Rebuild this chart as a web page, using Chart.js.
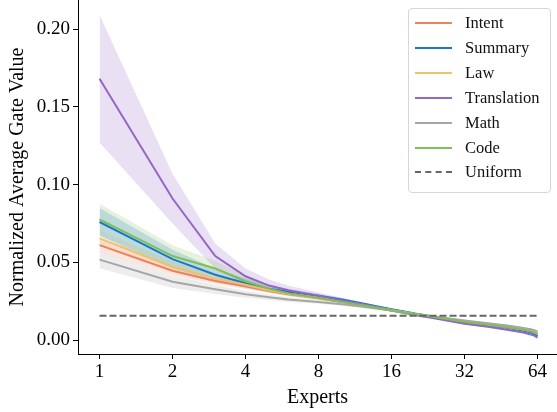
<!DOCTYPE html>
<html lang="en">
<head>
  <meta charset="UTF-8" />
  <title>Normalized Average Gate Value</title>
  <script src="https://cdn.jsdelivr.net/npm/chart.js"></script>
  <style>
    body { margin: 0; background: #fff; }
    #wrap { position: relative; width: 557px; height: 412px; }
    #legend {
      position: absolute; left: 408px; top: 8px; width: 141px; height: 183px;
      border: 1px solid #d6d6d6; border-radius: 4px; background: rgba(255,255,255,0.85);
      font-family: 'Liberation Serif', 'Times New Roman', serif; font-size: 16.5px; color: #111;
    }
    .item { position: absolute; left: 0; height: 20px; line-height: 20px; }
    .item .swatch { position: absolute; left: 6px; top: 9px; width: 37px; height: 0; border-top: 2px solid; }
    .item span { position: absolute; left: 56px; top: 0; white-space: nowrap; }
  </style>
</head>
<body>
  <div id="wrap">
    <canvas id="chart" width="557" height="412"></canvas>
    <div id="legend"></div>
  </div>

  <script>
    // expert rank (sorted by gate value)
    const ranks = [1, 2, 3, 4, 5, 6, 8, 10, 12, 16, 20, 24, 32, 40, 48, 56, 60, 62, 64];
    const xTicks = [1, 2, 4, 8, 16, 32, 64];
    const yTicks = [0, 0.05, 0.10, 0.15, 0.20];

    const intent      = [0.061, 0.0446, 0.038, 0.0345, 0.0315, 0.0295, 0.0268, 0.0245, 0.0226, 0.0192, 0.0168, 0.015, 0.0122, 0.0102, 0.0086, 0.007, 0.006, 0.0052, 0.0042];
    const summary     = [0.0759, 0.052, 0.042, 0.0365, 0.033, 0.031, 0.0285, 0.026, 0.0237, 0.0198, 0.017, 0.015, 0.0115, 0.0095, 0.0078, 0.006, 0.005, 0.004, 0.0025];
    const law         = [0.0654, 0.047, 0.0397, 0.0355, 0.032, 0.0298, 0.027, 0.0248, 0.0228, 0.0193, 0.0168, 0.015, 0.012, 0.01, 0.0084, 0.0068, 0.0058, 0.005, 0.004];
    const translation = [0.168, 0.091, 0.054, 0.041, 0.035, 0.032, 0.0285, 0.0255, 0.0232, 0.019, 0.016, 0.014, 0.0105, 0.0085, 0.0066, 0.0048, 0.0036, 0.0028, 0.0016];
    const math        = [0.0517, 0.0375, 0.0326, 0.0294, 0.0275, 0.026, 0.0245, 0.023, 0.0215, 0.019, 0.0168, 0.0152, 0.0126, 0.0108, 0.0093, 0.0078, 0.007, 0.0063, 0.0055];
    const code        = [0.0776, 0.054, 0.046, 0.0378, 0.033, 0.030, 0.027, 0.0245, 0.0225, 0.019, 0.0165, 0.0148, 0.0118, 0.0098, 0.0082, 0.0066, 0.0057, 0.0048, 0.0038];

    // spread (std) of each task
    const intentStd      = [0.004, 0.003, 0.002, 0.0015, 0.0012, 0.001, 0.0008, 0.0007, 0.0006, 0.0005, 0.0005, 0.0005, 0.0005, 0.0005, 0.0005, 0.0005, 0.0005, 0.0005, 0.0005];
    const summaryStd     = [0.009, 0.006, 0.004, 0.003, 0.0022, 0.0018, 0.0012, 0.001, 0.0008, 0.0006, 0.0005, 0.0005, 0.0005, 0.0005, 0.0005, 0.0005, 0.0005, 0.0006, 0.0007];
    const lawStd         = [0.005, 0.0035, 0.0025, 0.002, 0.0015, 0.0012, 0.0009, 0.0007, 0.0006, 0.0005, 0.0005, 0.0005, 0.0005, 0.0005, 0.0005, 0.0005, 0.0005, 0.0005, 0.0006];
    const translationStd = [0.041, 0.016, 0.008, 0.005, 0.004, 0.003, 0.002, 0.0015, 0.0012, 0.001, 0.0008, 0.0007, 0.0006, 0.0006, 0.0006, 0.0006, 0.0006, 0.0006, 0.0007];
    const mathStd        = [0.0055, 0.004, 0.003, 0.0022, 0.0018, 0.0015, 0.0012, 0.001, 0.0008, 0.0006, 0.0005, 0.0005, 0.0005, 0.0005, 0.0005, 0.0005, 0.0006, 0.0006, 0.0007];
    const codeStd        = [0.01, 0.007, 0.005, 0.0035, 0.0025, 0.002, 0.0014, 0.001, 0.0008, 0.0006, 0.0005, 0.0005, 0.0005, 0.0005, 0.0005, 0.0005, 0.0005, 0.0006, 0.0007];

    const uniformRanks = [1, 64];
    const uniformValues = [0.015625, 0.015625];

    const series = [
      { name: 'Intent',      mean: intent,      std: intentStd,      color: '#ee8060', band: 'rgba(238,128,96,0.2)' },
      { name: 'Summary',     mean: summary,     std: summaryStd,     color: '#1a78cc', band: 'rgba(26,120,204,0.2)' },
      { name: 'Law',         mean: law,         std: lawStd,         color: '#ebc26e', band: 'rgba(235,194,110,0.2)' },
      { name: 'Translation', mean: translation, std: translationStd, color: '#9565c6', band: 'rgba(149,101,198,0.2)' },
      { name: 'Math',        mean: math,        std: mathStd,        color: '#a6a6a6', band: 'rgba(166,166,166,0.2)' },
      { name: 'Code',        mean: code,        std: codeStd,        color: '#80bf55', band: 'rgba(128,191,85,0.2)' }
    ];

    const pts = (xs, ys) => xs.map((x, i) => ({ x: x, y: ys[i] }));

    const datasets = [];
    series.forEach((s, k) => {
      const upper = s.mean.map((m, i) => m + s.std[i]);
      const lower = s.mean.map((m, i) => m - s.std[i]);
      const idx = datasets.length;
      datasets.push({ label: '', data: pts(ranks, upper), borderWidth: 0, pointRadius: 0,
        backgroundColor: s.band, fill: idx + 1, order: 20 });
      datasets.push({ label: '', data: pts(ranks, lower), borderWidth: 0, pointRadius: 0,
        backgroundColor: s.band, fill: false, order: 20 });
    });
    series.forEach((s, k) => {
      datasets.push({ label: s.name, data: pts(ranks, s.mean), borderColor: s.color, borderWidth: 2,
        pointRadius: 0, fill: false, tension: 0, order: 8 - k });
    });
    datasets.push({ label: 'Uniform', data: pts(uniformRanks, uniformValues), borderColor: '#666666',
      borderWidth: 2, borderDash: [7, 3], pointRadius: 0, fill: false, order: 1 });

    const serif = "'Liberation Serif', 'Times New Roman', serif";

    new Chart(document.getElementById('chart'), {
      type: 'line',
      data: { datasets: datasets },
      options: {
        responsive: false,
        animation: false,
        devicePixelRatio: 1,
        layout: { padding: 0 },
        plugins: { legend: { display: false }, tooltip: { enabled: false } },
        scales: {
          x: {
            type: 'logarithmic',
            min: 0.815, max: 77,
            afterBuildTicks: s => { s.ticks = xTicks.map(v => ({ value: v })); },
            afterFit: s => { s.height = 58; s.paddingLeft = 0; s.paddingRight = 0; },
            ticks: { callback: v => String(v), color: '#000', font: { family: serif, size: 19 },
              maxRotation: 0, autoSkip: false, padding: 2 },
            grid: { drawOnChartArea: false, tickLength: 5, color: '#000' },
            border: { color: '#000', width: 1 },
            title: { display: true, text: 'Experts', color: '#000', font: { family: serif, size: 20 }, padding: { top: 0, bottom: 2 } }
          },
          y: {
            min: -0.009, max: 0.2187,
            afterBuildTicks: s => { s.ticks = yTicks.map(v => ({ value: v })); },
            afterFit: s => { s.width = 78; s.paddingTop = 0; s.paddingBottom = 0; },
            ticks: { callback: v => v.toFixed(2), color: '#000', font: { family: serif, size: 19 }, padding: 3 },
            grid: { drawOnChartArea: false, tickLength: 5, color: '#000' },
            border: { color: '#000', width: 1 },
            title: { display: true, text: 'Normalized Average Gate Value', color: '#000', font: { family: serif, size: 20 }, padding: { top: 6, bottom: 0 } }
          }
        }
      }
    });

    // matplotlib-style legend box
    const legendItems = series.map(s => ({ name: s.name, color: s.color, dashed: false }))
      .concat([{ name: 'Uniform', color: '#666666', dashed: true }]);
    const legendEl = document.getElementById('legend');
    legendItems.forEach((it, i) => {
      const row = document.createElement('div');
      row.className = 'item';
      row.style.top = (4 + i * 24.9) + 'px';
      row.innerHTML = '<div class="swatch" style="border-top-color:' + it.color +
        (it.dashed ? ';border-top-style:dashed' : '') + '"></div><span>' + it.name + '</span>';
      legendEl.appendChild(row);
    });
  </script>
</body>
</html>
